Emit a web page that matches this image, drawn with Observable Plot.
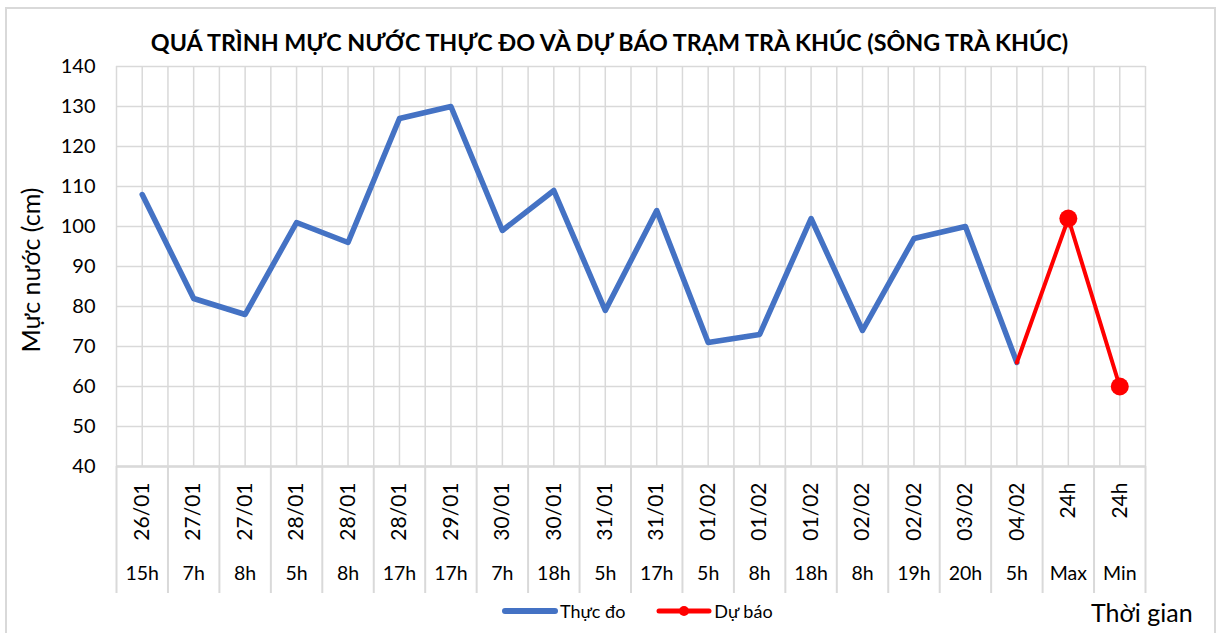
<!DOCTYPE html>
<html>
<head>
<meta charset="utf-8">
<script src="https://cdn.jsdelivr.net/npm/d3@7"></script>
<script src="https://cdn.jsdelivr.net/npm/@observablehq/plot@0.6"></script>
<style>
  body { margin: 0; background: #fff; }
  #wrap { position: relative; width: 1217px; height: 633px; overflow: hidden; background: #fff;
          font-family: Lato, sans-serif; }
  #chart { position: absolute; left: 0; top: 0; }
  .abs { position: absolute; white-space: nowrap; color: #000; }
</style>
</head>
<body>
<div id="wrap">
  <div class="abs" style="left:5px;top:7px;width:1207px;height:640px;border:2px solid #d9d9d9;"></div>
  <div id="chart"></div>
  <div class="abs" id="title" style="left:0;width:1219px;top:28px;text-align:center;font-weight:bold;font-size:23.3px;">QUÁ TRÌNH MỰC NƯỚC THỰC ĐO VÀ DỰ BÁO TRẠM TRÀ KHÚC (SÔNG TRÀ KHÚC)</div>
  <div class="abs" style="left:30px;top:270px;transform:translate(-50%,-50%) rotate(-90deg);font-size:25px;">Mực nước (cm)</div>
  <div class="abs" style="left:1091px;top:597px;font-size:25px;">Thời gian</div>
  <div class="abs" id="legend" style="left:502px;top:600px;font-size:18px;display:flex;align-items:center;">
    <svg width="56" height="12"><line x1="3" y1="6" x2="53" y2="6" stroke="#4472C4" stroke-width="6" stroke-linecap="round"/></svg>
    <span style="margin-left:2px">Thực đo</span>
    <svg width="56" height="14" style="margin-left:31px"><line x1="3" y1="7" x2="53" y2="7" stroke="#FF0000" stroke-width="5" stroke-linecap="round"/><circle cx="28" cy="7" r="5" fill="#FF0000"/></svg>
    <span style="margin-left:2px">Dự báo</span>
  </div>
</div>
<script>
// ---- data ----
const dates = ["26/01","27/01","27/01","28/01","28/01","28/01","29/01","30/01","30/01","31/01",
               "31/01","01/02","01/02","01/02","02/02","02/02","03/02","04/02","24h","24h"];
const hours = ["15h","7h","8h","5h","8h","17h","17h","7h","18h","5h",
               "17h","5h","8h","18h","8h","19h","20h","5h","Max","Min"];
const measured = [108,82,78,101,96,127,130,99,109,79,104,71,73,102,74,97,100,66];
const forecastIdx = [17,18,19];
const forecast = [66,102,60];
const forecastDotIdx = [18,19];
const forecastDots = [102,60];
const yTicks = [40,50,60,70,80,90,100,110,120,130,140];

const measuredData = measured.map((v,i)=>({i, v}));
const forecastData = forecast.map((v,k)=>({i: forecastIdx[k], v}));
const dotData = forecastDots.map((v,k)=>({i: forecastDotIdx[k], v}));
const n = dates.length;
const centers = d3.range(n);
const bounds = d3.range(n+1).map(k=>k-0.5);

const font = 'Lato, sans-serif';
const chart = Plot.plot({
  width: 1217,
  height: 633,
  marginLeft: 116,
  marginRight: 72,
  marginTop: 66,
  marginBottom: 167,
  style: {fontFamily: font, background: "transparent", overflow: "visible"},
  x: {type: "linear", domain: [-0.5, n-0.5]},
  y: {domain: [40, 140]},
  marks: [
    Plot.gridY(yTicks, {stroke: "#d9d9d9", strokeOpacity: 1, strokeWidth: 1.5}),
    Plot.gridX(centers, {stroke: "#d9d9d9", strokeOpacity: 1, strokeWidth: 1.5}),
    Plot.gridX(bounds, {stroke: "#d9d9d9", strokeOpacity: 1, strokeWidth: 1.5}),
    Plot.axisX(bounds, {tickSize: 127, tickFormat: () => "", stroke: "#d9d9d9", strokeWidth: 2, label: null}),
    Plot.ruleY([40], {stroke: "#d9d9d9", strokeWidth: 2.5}),
    Plot.axisX(centers, {tickSize: 0, tickPadding: 16, tickRotate: -90, tickFormat: i => dates[i], fontSize: 21, label: null}),
    Plot.axisX(centers, {tickSize: 0, tickPadding: 100, tickFormat: i => hours[i], fontSize: 19.5, label: null}),
    Plot.axisY(yTicks, {tickSize: 0, tickPadding: 21, fontSize: 20, label: null}),
    Plot.line(measuredData, {x: "i", y: "v", stroke: "#4472C4", strokeWidth: 5.5, strokeLinejoin: "round"}),
    Plot.line(forecastData, {x: "i", y: "v", stroke: "#FF0000", strokeWidth: 4, strokeLinejoin: "round"}),
    Plot.dot(dotData, {x: "i", y: "v", r: 9, fill: "#FF0000"})
  ]
});
document.getElementById("chart").appendChild(chart);
</script>
</body>
</html>
